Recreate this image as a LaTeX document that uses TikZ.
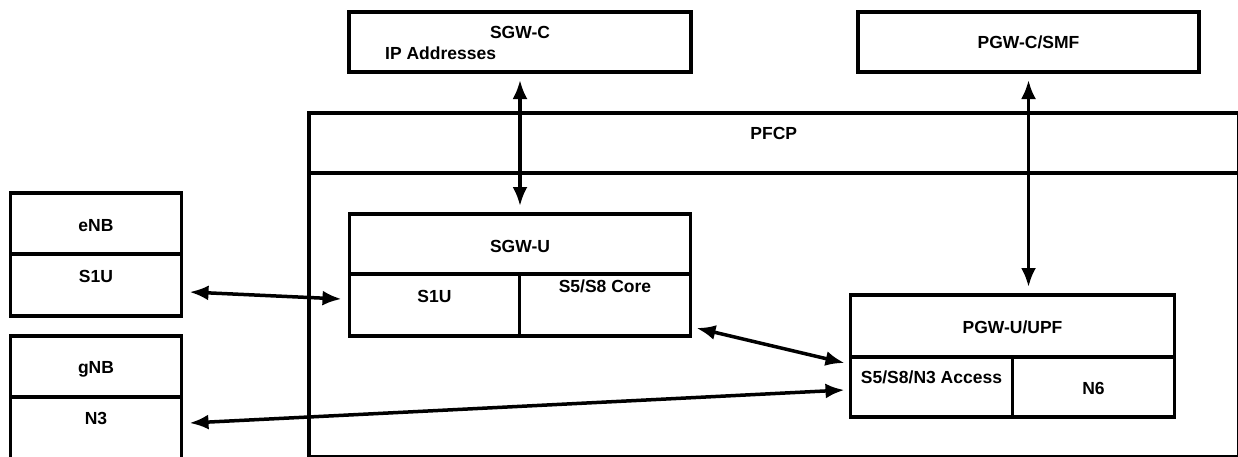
\documentclass[tikz,border=0pt]{standalone}
\usepackage{fontspec}
\setmainfont{Liberation Sans}
\usetikzlibrary{arrows.meta, positioning}

\begin{document}
\begin{tikzpicture}[
    x=1pt, y=-1pt,
    cell/.style={
        rectangle,
        draw=black,
        line width=3.5pt,
        fill=white,
        inner sep=0pt,
        outer sep=0pt,
        align=center,
        text height=12.5pt,
        text depth=0pt,
        font=\fontsize{17.5}{21}\selectfont\bfseries
    },
    tag/.style={
        inner sep=0pt,
        font=\fontsize{17.5}{21}\selectfont\bfseries
    },
    link/.style={
        {Latex[length=19pt,width=15pt]}-{Latex[length=19pt,width=15pt]},
        line width=3.5pt,
        black
    }
]

% page
\path[fill=white] (0,0) rectangle (1238,456);
\clip (0,0) rectangle (1238,456);

% SGW-C box
\node[cell, minimum width=342pt, minimum height=60pt, text depth=20pt] (sgwc) at (520,42) {SGW-C};
\node[tag, anchor=base west] (sgwcip) at ([xshift=36pt,yshift=-17.25pt]sgwc.west) {IP Addresses};

% PGW-C/SMF box
\node[cell, minimum width=341pt, minimum height=60pt, right=167pt of sgwc] (pgwc) {PGW-C/SMF};

% PFCP frame
\node[cell, minimum width=929.5pt, minimum height=60pt, text depth=19.4pt, anchor=north west] (pfcp) at ([xshift=-40pt,yshift=-41pt]sgwc.south west) {PFCP};
\node[cell, minimum width=929.5pt, minimum height=283.5pt, below=0pt of pfcp] (pfcpbody) {};

% SGW-U box
\node[cell, minimum width=341pt, minimum height=60pt, text height=17.8pt, below=142pt of sgwc] (sgwu) {SGW-U};
\node[cell, minimum width=170pt, minimum height=62pt, text depth=16.7pt, below=0pt of sgwu.south west, anchor=north west] (sgwus1u) {S1U};
\node[cell, minimum width=171pt, minimum height=62pt, text depth=37.3pt, right=0pt of sgwus1u] (sgwucore) {S5/S8 Core};

% eNB box
\node[cell, minimum width=171pt, minimum height=61pt, text height=16.9pt, left=168pt of sgwu, yshift=20.5pt] (enb) {eNB};
\node[cell, minimum width=171pt, minimum height=62pt, text depth=18.5pt, below=0pt of enb] (enbs1u) {S1U};

% gNB box
\node[cell, minimum width=171pt, minimum height=61pt, text height=14.5pt, below=20pt of enbs1u] (gnb) {gNB};
\node[cell, minimum width=171pt, minimum height=80pt, text depth=37.5pt, below=0pt of gnb] (gnbn3) {N3};

% PGW-U/UPF box
\node[cell, minimum width=324pt, minimum height=62pt, text height=15.2pt, right=160pt of sgwu, yshift=-82pt] (pgwu) {PGW-U/UPF};
\node[cell, minimum width=162pt, minimum height=60pt, text depth=18.7pt, below=0pt of pgwu.south west, anchor=north west] (pgwuacc) {S5/S8/N3 Access};
\node[cell, minimum width=162pt, minimum height=60pt, text height=15.8pt, right=0pt of pgwuacc] (pgwun6) {N6};

% Control plane arrows
\draw[link, shorten <=8pt, shorten >=8pt] (sgwc.south) -- (sgwu.north);
\draw[link, shorten <=8pt, shorten >=8pt] (pgwc.south) -- (pgwc.south |- pgwu.north);

% User plane arrows
\draw[link] ([xshift=8pt,yshift=-7pt]enbs1u.east) -- ([xshift=-8pt,yshift=6pt]sgwus1u.west);
\draw[link] ([xshift=6pt,yshift=8pt]sgwucore.south east) -- ([xshift=-6pt,yshift=-6pt]pgwu.south west);
\draw[link] ([xshift=8pt,yshift=-26pt]gnb.south east) -- ([xshift=-6pt,yshift=-3pt]pgwuacc.west);

\end{tikzpicture}
\end{document}
